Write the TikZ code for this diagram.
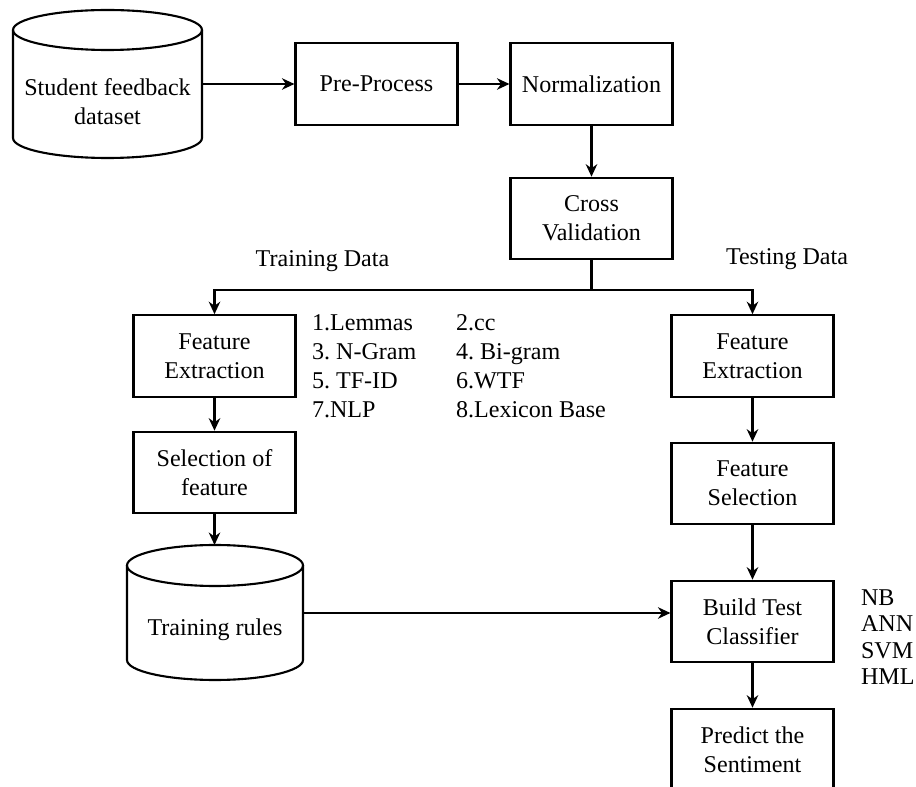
\documentclass[tikz,border=0pt]{standalone}
\usepackage{fontspec}
\setmainfont{Liberation Serif}
\newfontfamily\diagfont{Liberation Serif}
\usetikzlibrary{arrows.meta}
\frenchspacing

\begin{document}
\begin{tikzpicture}[
  font=\diagfont\fontsize{13.7}{16.5}\selectfont,
  line width=1.2pt,
  >={Stealth[length=0.25cm, width=0.23cm]},
  box/.style={draw, minimum width=3.24cm, minimum height=1.63cm, align=center, inner sep=0pt},
  tag/.style={inner sep=0pt, align=left, anchor=west}
]

\useasboundingbox ( 0, 0 ) rectangle ( 18.32, -15.74 );

% Student feedback dataset
\draw ( 0.26, -0.6 ) -- ( 0.26, -2.76 ) arc ( 180:360:1.89cm and 0.4cm ) -- ( 4.04, -0.6 );
\draw ( 2.15, -0.6 ) ellipse ( 1.89cm and 0.4cm );
\node (data) at ( 2.15, -2.04 ) [align=center] {Student feedback\\dataset};
\coordinate (dataout) at ( 4.04, -1.68 );

% Pipeline
\node (pre) at ( 7.53, -1.68 ) [box] {Pre-Process};
\node (norm) at ( 11.83, -1.68 ) [box] {Normalization};
\node (cross) at ( 11.83, -4.37 ) [box] {Cross\\Validation};

% Training side
\node (fetrain) at ( 4.29, -7.12 ) [box] {Feature\\Extraction};
\node (sel) at ( 4.29, -9.45 ) [box] {Selection of\\feature};

% Training rules
\draw ( 2.54, -11.31 ) -- ( 2.54, -13.2 ) arc ( 180:360:1.76cm and 0.4cm ) -- ( 6.06, -11.31 );
\draw ( 4.30, -11.31 ) ellipse ( 1.76cm and 0.41cm );
\node (rules) at ( 4.30, -12.6 ) {Training rules};
\coordinate (rulesin) at ( 4.29, -10.9 );
\coordinate (rulesout) at ( 6.06, -12.26 );

% Testing side
\node (fetest) at ( 15.05, -7.12 ) [box] {Feature\\Extraction};
\node (fsel) at ( 15.05, -9.67 ) [box] {Feature\\Selection};
\node (build) at ( 15.05, -12.43 ) [box] {Build Test\\Classifier};
\node (predict) at ( 15.05, -14.99 ) [box] {Predict the\\Sentiment};

% Labels
\node (trainlbl) at ( 6.45, -5.22 ) {Training Data};
\node (testlbl) at ( 15.74, -5.18 ) {Testing Data};
\node (featsa) at ( 6.22, -7.32 ) [tag] {1.Lemmas\\3. N-Gram\\5. TF-ID\\7.NLP};
\node (featsb) at ( 9.10, -7.32 ) [tag] {2.cc\\4. Bi-gram\\6.WTF\\8.Lexicon Base};
\node (algos) at ( 17.2, -12.74 ) [tag, font=\diagfont\fontsize{13.7}{15}\selectfont] {NB\\ANN\\SVM\\HML};

% Arrows
\draw [->] (dataout) -- (pre);
\draw [->] (pre) -- (norm);
\draw [->] (norm) -- (cross);
\draw (cross.south) -- ++( 0, -0.6 ) coordinate (split);
\draw [->] (split) -| (fetrain.north);
\draw [->] (split) -| (fetest.north);
\draw [->] (fetrain) -- (sel);
\draw [->] (sel) -- (rulesin);
\draw [->] (rulesout) -- (rulesout -| build.west);
\draw [->] (fetest) -- (fsel);
\draw [->] (fsel) -- (build);
\draw [->] (build) -- (predict);

\end{tikzpicture}
\end{document}
